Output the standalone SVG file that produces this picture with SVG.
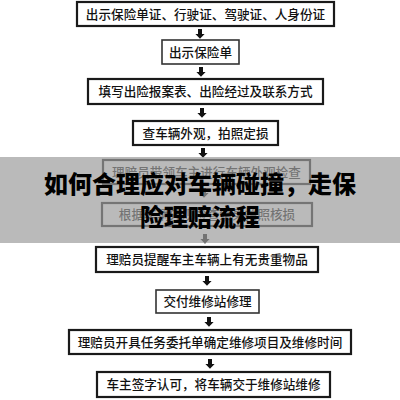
<svg xmlns="http://www.w3.org/2000/svg" width="400" height="400" viewBox="0 0 400 400">
<defs>
<style>
.box{fill:#fff;stroke:#1a1a1a;stroke-width:2.2}
.t{font-family:"Noto Sans CJK SC","Noto Sans",sans-serif;font-size:12.6px;font-weight:500;fill:#111;text-anchor:middle}
.arr{fill:#111}
.title{font-family:"Noto Sans CJK SC","Noto Sans",sans-serif;font-size:24px;font-weight:900;fill:#000;text-anchor:middle}
</style>
<path id="a" d="M-2,0 h4 v5 h2.6 l-4.6,4.8 l-4.6,-4.8 h2.6 z"/>
</defs>
<rect width="400" height="400" fill="#fff"/>
<g id="connectors">
<use href="#a" class="arr" x="200" y="29"/>
<use href="#a" class="arr" x="201" y="67"/>
<use href="#a" class="arr" x="202" y="108"/>
<use href="#a" class="arr" x="203" y="148"/>
<use href="#a" class="arr" x="204" y="188"/>
<use href="#a" class="arr" x="205" y="234"/>
<use href="#a" class="arr" x="207" y="276"/>
<use href="#a" class="arr" x="209" y="317"/>
<use href="#a" class="arr" x="210" y="359"/>
</g>
<g id="n1"><rect class="box" x="77" y="2" width="257" height="24"/><text class="t" x="205.5" y="18.5">出示保险单证、行驶证、驾驶证、人身份证</text></g>
<g id="n2"><rect class="box" x="162" y="40" width="77" height="24" style="stroke:#333;stroke-width:1.6"/><text class="t" x="200.5" y="56.5">出示保险单</text></g>
<g id="n3"><rect class="box" x="88" y="79" width="235" height="25"/><text class="t" x="205.5" y="96">填写出险报案表、出险经过及联系方式</text></g>
<g id="n4"><rect class="box" x="133" y="121" width="145" height="24"/><text class="t" x="205.5" y="137.5">查车辆外观，拍照定损</text></g>
<g id="n5"><rect class="box" x="103" y="160" width="207" height="24"/><text class="t" x="206.5" y="176.5">理赔员带领车主进行车辆外观检查</text></g>
<g id="n6"><rect class="box" x="102" y="203" width="210" height="23"/><text class="t" x="207" y="219">根据车辆外观检查结果拍照核损</text></g>
<g id="n7"><rect class="box" x="96" y="247" width="222" height="25"/><text class="t" x="207" y="264">理赔员提醒车主车辆上有无贵重物品</text></g>
<g id="n8"><rect class="box" x="156" y="290" width="103" height="23" style="stroke:#333;stroke-width:1.6"/><text class="t" x="207.5" y="306">交付维修站修理</text></g>
<g id="n9"><rect class="box" x="69" y="330" width="282" height="24"/><text class="t" x="210" y="346.5">理赔员开具任务委托单确定维修项目及维修时间</text></g>
<g id="n10"><rect class="box" x="97" y="372" width="233" height="25"/><text class="t" x="213.5" y="389">车主签字认可，将车辆交于维修站维修</text></g>
<g id="banner">
<rect x="0" y="157" width="400" height="86" fill="#9c9c9c" opacity="0.7"/>
<text class="title" x="200" y="193">如何合理应对车辆碰撞，走保</text>
<text class="title" x="200" y="226">险理赔流程</text>
</g>
</svg>
